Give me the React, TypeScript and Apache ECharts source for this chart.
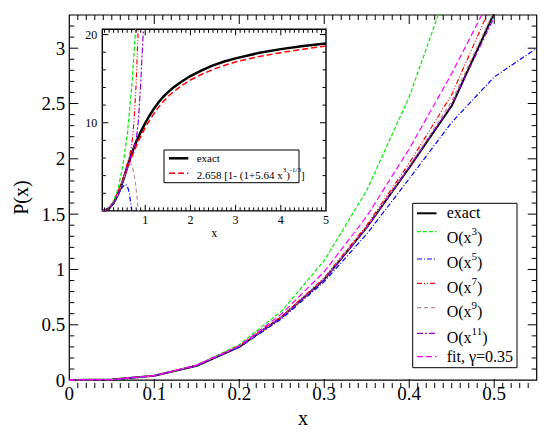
import React, { useEffect, useRef } from "react";
import * as echarts from "echarts";

const FONT = "Liberation Serif";

// ---------- main plot data (x from 0 to 0.55) ----------
const X_MAIN = [0, 0.05, 0.1, 0.15, 0.2, 0.25, 0.3, 0.35, 0.4, 0.45, 0.5, 0.55];
const EXACT_MAIN = [0, 0.005, 0.04, 0.13, 0.3, 0.57, 0.91, 1.38, 1.92, 2.48, 3.32, null];
const O3_MAIN = [0, 0.005, 0.04, 0.135, 0.32, 0.625, 1.08, 1.715, 2.56, 3.645, null, null];
const O5_MAIN = [0, 0.005, 0.039, 0.13, 0.297, 0.555, 0.89, 1.32, 1.82, 2.33, 2.74, 3.0];
const O7_MAIN = [0, 0.005, 0.04, 0.135, 0.31, 0.575, 0.925, 1.4, 1.96, 2.58, 3.45, null];
const O9_MAIN = [0, 0.005, 0.04, 0.134, 0.305, 0.57, 0.915, 1.385, 1.93, 2.52, 3.34, null];
const O11_MAIN = [0, 0.005, 0.04, 0.134, 0.303, 0.568, 0.91, 1.378, 1.925, 2.49, 3.28, null];
const FIT_MAIN = [0, 0.005, 0.04, 0.135, 0.31, 0.6, 0.98, 1.48, 2.09, 2.77, 3.52, null];

// ---------- inset data (x from 0.05 to 5) ----------
const X_IN_EXACT = [0.05, 0.1, 0.2, 0.3, 0.4, 0.5, 0.6, 0.7, 0.8, 0.9, 1.0, 1.1, 1.2, 1.3, 1.4, 1.5, 1.6, 1.8, 2.0, 2.25, 2.5, 2.75, 3.0, 3.5, 4.0, 4.5, 5.0];
const EXACT_IN = [0.005, 0.04, 0.3, 0.91, 1.92, 3.32, 4.95, 6.5, 7.85, 8.95, 9.95, 10.85, 11.65, 12.35, 12.95, 13.45, 13.9, 14.65, 15.3, 15.95, 16.5, 16.95, 17.3, 17.9, 18.35, 18.7, 19.0];
const FIT_IN = [0.005, 0.04, 0.31, 1.0, 2.15, 3.4, 4.75, 6.1, 7.35, 8.45, 9.45, 10.3, 11.1, 11.8, 12.4, 12.95, 13.4, 14.2, 14.85, 15.5, 16.05, 16.5, 16.9, 17.5, 17.95, 18.35, 18.7];
const X_IN_O3 = [0.05, 0.1, 0.2, 0.3, 0.4, 0.5, 0.6, 0.7, 0.8];
const O3_IN = [0.005, 0.04, 0.32, 1.08, 2.56, 5.0, 8.5, 14.0, 21.5];
const X_IN_O5 = [0.05, 0.1, 0.2, 0.3, 0.4, 0.5, 0.55, 0.6, 0.65, 0.7];
const O5_IN = [0.005, 0.04, 0.3, 0.89, 1.82, 2.74, 3.0, 2.9, 2.0, 0];
const X_IN_O7 = [0.05, 0.1, 0.2, 0.3, 0.4, 0.5, 0.6, 0.65, 0.7, 0.75, 0.8, 0.85];
const O7_IN = [0.005, 0.04, 0.31, 0.925, 1.96, 3.45, 5.3, 6.2, 7.4, 10.0, 14.5, 21.5];
const X_IN_O9 = [0.05, 0.1, 0.2, 0.3, 0.4, 0.5, 0.6, 0.65, 0.7, 0.75, 0.8, 0.85];
const O9_IN = [0.005, 0.04, 0.305, 0.915, 1.93, 3.34, 4.9, 5.4, 5.2, 4.3, 2.5, 0];
const X_IN_O11 = [0.05, 0.1, 0.2, 0.3, 0.4, 0.5, 0.6, 0.7, 0.8, 0.85, 0.9, 0.95, 1.0];
const O11_IN = [0.005, 0.04, 0.303, 0.91, 1.925, 3.28, 4.95, 6.5, 8.0, 10.3, 14.5, 19.6, 26];

// ---------- tick labels / tick positions ----------
const MAIN_X_LABELS = [0, 0.1, 0.2, 0.3, 0.4, 0.5];
const MAIN_Y_LABELS = [0, 0.5, 1, 1.5, 2, 2.5, 3];
const INSET_X_LABELS = [1, 2, 3, 4, 5];
const INSET_Y_LABELS = [10, 20];
const INSET_Y_MINOR = [2, 4, 6, 8, 12, 14, 16, 18];

const MAIN_X_MINOR: number[] = [];
for (let i = 1; i < 55; i++) if (i % 10 !== 0) MAIN_X_MINOR.push(i / 100);
const MAIN_Y_MINOR: number[] = [];
for (let i = 1; i < 33; i++) if (i % 5 !== 0) MAIN_Y_MINOR.push(i / 10);
const INSET_X_MINOR: number[] = [];
for (let i = 1; i < 50; i++) if (i % 10 !== 0) INSET_X_MINOR.push(i / 10);

const COLORS: Record<string, string> = {
  exact: "#000000",
  o3: "#00ee00",
  o5: "#0000ff",
  o7: "#ff0000",
  o9: "#bc8f8f",
  o11: "#9400d3",
  fit: "#ff00ff",
  fitIn: "#ff0000",
};
const DASH: Record<string, any> = {
  exact: "solid",
  o3: [4, 2],
  o5: [5, 2, 1, 2],
  o7: [5, 2, 1, 2, 1, 2],
  o9: [4, 3],
  o11: [6, 2, 2, 2],
  fit: [6, 3],
  fitIn: [6, 3],
};

function pairs(xs: number[], ys: (number | null)[]) {
  const out: number[][] = [];
  xs.forEach((x, i) => {
    const y = ys[i];
    if (y !== null && y !== undefined) out.push([x, y]);
  });
  return out;
}

function mkAxis(o: any) {
  const labels: number[] = o.labels;
  return {
    id: o.id,
    type: "value",
    gridIndex: o.grid,
    position: o.position,
    min: o.min,
    max: o.max,
    splitLine: { show: false },
    axisLine: { show: false, onZero: false },
    axisTick: { show: false },
    axisLabel: {
      show: true,
      fontSize: o.fontSize,
      fontFamily: FONT,
      color: "#000",
      margin: o.margin,
      formatter: (v: number) => {
        const hit = labels.find((l) => Math.abs(l - v) < 1e-6);
        return hit === undefined ? "" : String(hit);
      },
    },
    name: o.name,
    nameLocation: "middle",
    nameGap: o.nameGap,
    nameTextStyle: { fontSize: o.nameSize, fontFamily: FONT, color: "#000" },
  };
}

function seriesLine(name: string, key: string, data: number[][], axis: number, width: number) {
  return {
    type: "line",
    name,
    xAxisIndex: axis,
    yAxisIndex: axis,
    data,
    showSymbol: false,
    symbol: "none",
    clip: true,
    lineStyle: { color: COLORS[key], width, type: DASH[key] },
    z: axis === 0 ? 2 : 12,
  };
}

function legendLine(x1: number, x2: number, y: number, key: string, width: number) {
  const d = DASH[key];
  const style: any = { stroke: COLORS[key], lineWidth: width };
  if (d !== "solid") style.lineDash = d;
  return { type: "line", z: 100, silent: true, shape: { x1, y1: y, x2, y2: y }, style };
}

function legendText(x: number, y: number, text: string, size: number, supSize: number, lh: number, supLh: number) {
  return {
    type: "text",
    z: 100,
    silent: true,
    x,
    y,
    style: {
      text,
      fill: "#000",
      fontSize: size,
      fontFamily: FONT,
      verticalAlign: "middle",
      align: "left",
      rich: {
        a: { fontSize: size, fontFamily: FONT, lineHeight: lh, fill: "#000" },
        s: { fontSize: supSize, fontFamily: FONT, lineHeight: supLh, verticalAlign: "top", fill: "#000" },
      },
    },
  };
}

const MAIN_LEGEND = [
  { key: "exact", ly: 213.3, ty: 212.5, text: "exact", w: 2 },
  { key: "o3", ly: 231.7, ty: 237, text: "{a|O(x}{s|3}{a|)}", w: 1.2 },
  { key: "o5", ly: 259, ty: 262, text: "{a|O(x}{s|5}{a|)}", w: 1.2 },
  { key: "o7", ly: 283.3, ty: 287, text: "{a|O(x}{s|7}{a|)}", w: 1.2 },
  { key: "o9", ly: 307.7, ty: 311.5, text: "{a|O(x}{s|9}{a|)}", w: 1.2 },
  { key: "o11", ly: 333.3, ty: 337, text: "{a|O(x}{s|11}{a|)}", w: 1.2 },
  { key: "fit", ly: 356.7, ty: 356, text: "fit, γ=0.35", w: 1.2 },
];
const INSET_LEGEND = [
  { key: "exact", ly: 158.3, ty: 158, text: "exact", w: 2.5 },
  { key: "fitIn", ly: 173.3, ty: 174.5, text: "{a|2.658 [1- (1+5.64 x}{s|3}{a|)}{s|-1/3}{a|]}", w: 1.5 },
];

export default function App() {
  const ref = useRef<HTMLDivElement>(null);
  useEffect(() => {
    if (!ref.current) return;
    const chart = echarts.init(ref.current, null, { renderer: "svg" });

    const MG = { left: 69.3, top: 15, width: 467.4, height: 373 };
    const IG = { left: 102.3, top: 29.3, width: 223.7, height: 181.6 };

    const axX = [
      mkAxis({ id: "mx", grid: 0, position: "bottom", min: 0, max: 0.55, labels: MAIN_X_LABELS, fontSize: 19, margin: 4, name: "x", nameGap: 19, nameSize: 20 }),
      mkAxis({ id: "ix", grid: 1, position: "bottom", min: 0.05, max: 5, labels: INSET_X_LABELS, fontSize: 12, margin: 3, name: "x", nameGap: 15, nameSize: 12 }),
    ];
    const axY = [
      mkAxis({ id: "my", grid: 0, position: "left", min: 0, max: 3.3, labels: MAIN_Y_LABELS, fontSize: 19, margin: 4, name: "P(x)", nameGap: 36, nameSize: 20 }),
      mkAxis({ id: "iy", grid: 1, position: "left", min: 0, max: 20.6, labels: INSET_Y_LABELS, fontSize: 12, margin: 5, name: "", nameGap: 0, nameSize: 12 }),
    ];

    chart.setOption({
      animation: false,
      backgroundColor: "#fff",
      grid: [
        { ...MG, containLabel: false, show: true, borderColor: "#000", borderWidth: 1.2, backgroundColor: "rgba(0,0,0,0)" },
        { ...IG, containLabel: false, show: true, backgroundColor: "#fff", borderColor: "#000", borderWidth: 1.4, z: 10 },
      ],
      xAxis: axX,
      yAxis: axY,
      series: [
        seriesLine("exact", "exact", pairs(X_MAIN, EXACT_MAIN), 0, 2),
        seriesLine("O(x^3)", "o3", pairs(X_MAIN, O3_MAIN), 0, 1.2),
        seriesLine("O(x^5)", "o5", pairs(X_MAIN, O5_MAIN), 0, 1.2),
        seriesLine("O(x^7)", "o7", pairs(X_MAIN, O7_MAIN), 0, 1.2),
        seriesLine("O(x^9)", "o9", pairs(X_MAIN, O9_MAIN), 0, 1.2),
        seriesLine("O(x^11)", "o11", pairs(X_MAIN, O11_MAIN), 0, 1.2),
        seriesLine("fit", "fit", pairs(X_MAIN, FIT_MAIN), 0, 1.2),
        seriesLine("exact inset", "exact", pairs(X_IN_EXACT, EXACT_IN), 1, 2.5),
        seriesLine("fit inset", "fitIn", pairs(X_IN_EXACT, FIT_IN), 1, 1.5),
        seriesLine("O3 inset", "o3", pairs(X_IN_O3, O3_IN), 1, 1.2),
        seriesLine("O5 inset", "o5", pairs(X_IN_O5, O5_IN), 1, 1.2),
        seriesLine("O7 inset", "o7", pairs(X_IN_O7, O7_IN), 1, 1.2),
        seriesLine("O9 inset", "o9", pairs(X_IN_O9, O9_IN), 1, 1.2),
        seriesLine("O11 inset", "o11", pairs(X_IN_O11, O11_IN), 1, 1.2),
      ],
    });

    const toPx = (dim: "x" | "y", id: string, grid: number, g: any, lo: number, hi: number, v: number) => {
      let p: any;
      try {
        p = chart.convertToPixel(dim === "x" ? { xAxisId: id } : { yAxisId: id }, v);
      } catch (e) { p = NaN; }
      if (typeof p !== "number" || !isFinite(p)) {
        try {
          const pt: any = chart.convertToPixel({ gridIndex: grid }, dim === "x" ? [v, lo] : [lo, v]);
          p = pt ? pt[dim === "x" ? 0 : 1] : NaN;
        } catch (e) { p = NaN; }
      }
      if (typeof p !== "number" || !isFinite(p)) {
        const f = (v - lo) / (hi - lo);
        p = dim === "x" ? g.left + f * g.width : g.top + g.height - f * g.height;
      }
      return p;
    };

    const graphic: any[] = [];
    const tick = (x1: number, y1: number, x2: number, y2: number) =>
      graphic.push({ type: "line", z: 101, silent: true, shape: { x1, y1, x2, y2 }, style: { stroke: "#000", lineWidth: 1 } });
    const xTicks = (id: string, grid: number, g: any, lo: number, hi: number, values: number[], len: number) => {
      values.forEach((v) => {
        const px = toPx("x", id, grid, g, lo, hi, v);
        tick(px, g.top + g.height, px, g.top + g.height - len);
        tick(px, g.top, px, g.top + len);
      });
    };
    const yTicks = (id: string, grid: number, g: any, lo: number, hi: number, values: number[], len: number) => {
      values.forEach((v) => {
        const py = toPx("y", id, grid, g, lo, hi, v);
        tick(g.left, py, g.left + len, py);
        tick(g.left + g.width, py, g.left + g.width - len, py);
      });
    };
    xTicks("mx", 0, MG, 0, 0.55, MAIN_X_LABELS.filter((v) => v > 0), 9);
    xTicks("mx", 0, MG, 0, 0.55, MAIN_X_MINOR, 5);
    yTicks("my", 0, MG, 0, 3.3, MAIN_Y_LABELS.filter((v) => v > 0), 9);
    yTicks("my", 0, MG, 0, 3.3, MAIN_Y_MINOR, 5);
    xTicks("ix", 1, IG, 0.05, 5, INSET_X_LABELS.filter((v) => v < 5), 6);
    xTicks("ix", 1, IG, 0.05, 5, INSET_X_MINOR, 3.5);
    yTicks("iy", 1, IG, 0, 20.6, INSET_Y_LABELS, 6);
    yTicks("iy", 1, IG, 0, 20.6, INSET_Y_MINOR, 3.5);

    graphic.push({ type: "rect", z: 99, silent: true, shape: { x: 412.7, y: 203.3, width: 104.3, height: 164.4 }, style: { fill: "#fff", stroke: "#000", lineWidth: 1 } });
    graphic.push({ type: "rect", z: 99, silent: true, shape: { x: 164, y: 150, width: 135, height: 32.7 }, style: { fill: "#fff", stroke: "#000", lineWidth: 1 } });
    MAIN_LEGEND.forEach((r) => {
      graphic.push(legendLine(417, 436.5, r.ly, r.key, r.w));
      graphic.push(legendText(446.7, r.ty, r.text, 16, 11, 24, 6));
    });
    INSET_LEGEND.forEach((r) => {
      graphic.push(legendLine(169, 188.3, r.ly, r.key, r.w));
      graphic.push(legendText(196.7, r.ty, r.text, 11, 7, 16, 4));
    });

    chart.setOption({ graphic });
    return () => chart.dispose();
  }, []);
  return <div ref={ref} style={{ position: "absolute", left: 0, top: 0, width: 550, height: 433 }} />;
}
